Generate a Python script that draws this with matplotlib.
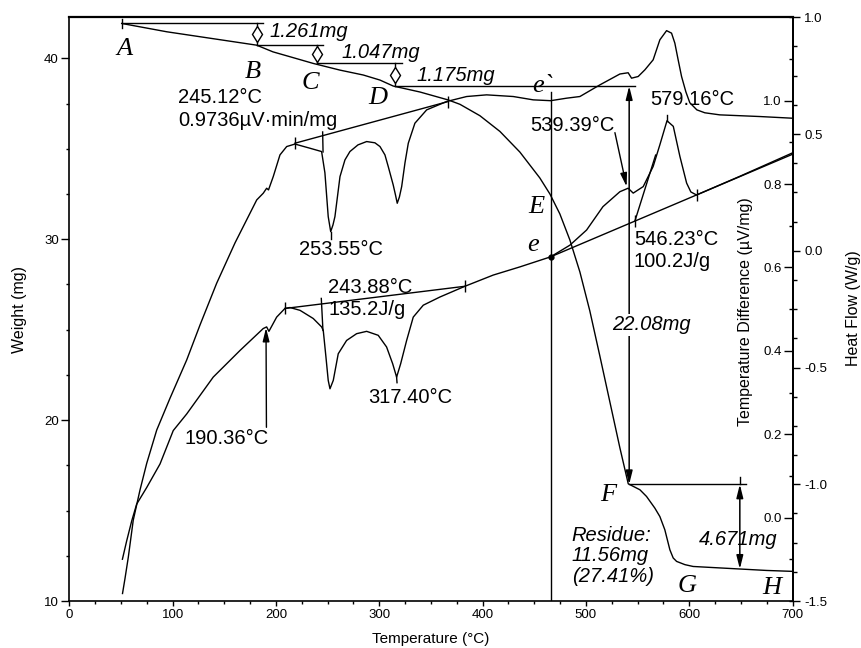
import matplotlib.pyplot as plt
from matplotlib.ticker import MultipleLocator

plt.rcParams['font.family'] = ['Liberation Sans', 'DejaVu Sans']
plt.rcParams['axes.unicode_minus'] = False

# TG curve: temperature (°C) / weight (mg)
tg_temp = [50.7, 94.3, 181.3, 197.1, 213.6, 236.1, 262.0, 284.5, 300.7, 313.5,
           339.4, 366.8, 378.1, 397.4, 416.8, 436.1, 455.4, 465.2, 474.8, 484.5,
           494.2, 503.8, 513.5, 523.2, 532.9, 541.0, 552.3, 558.7, 566.7, 571.6,
           576.4, 581.3, 584.5, 587.8, 595.9, 603.8, 619.9, 649.0, 674.9, 699.6]
tg_weight = [41.93, 41.47, 40.73, 40.36, 40.09, 39.72, 39.35, 39.08, 38.80, 38.47,
             38.14, 37.70, 37.46, 36.83, 35.96, 34.82, 33.39, 32.50, 31.40, 29.96,
             28.19, 26.04, 23.55, 21.01, 18.47, 16.48, 16.15, 15.78, 15.14, 14.67,
             13.94, 12.83, 12.38, 12.19, 12.01, 11.91, 11.86, 11.77, 11.69, 11.64]

# DTA curve: temperature (°C) / temperature difference (µV/mg)
dta_temp = [51.5, 53.9, 57.1, 61.9, 68.4, 74.9, 84.6, 97.4, 113.6, 126.5,
            142.6, 160.4, 181.4, 187.7, 191.0, 192.8, 197.4, 203.9, 210.4, 218.4,
            232.9, 244.2, 247.4, 250.6, 253.0, 255.2, 257.1, 262.0, 266.8, 271.6,
            279.4, 287.8, 295.8, 300.7, 305.5, 308.7, 313.5, 315.7, 317.4, 319.5,
            321.7, 324.9, 328.1, 334.5, 345.9, 365.2, 384.6, 403.9, 429.7, 449.0,
            465.9, 481.3, 494.2, 513.6, 532.9, 540.9, 544.2, 550.6, 557.1, 565.1,
            571.6, 578.1, 582.9, 586.1, 589.3, 592.6, 596.8, 600.6, 607.4, 615.1,
            629.6, 668.4, 699.6]
dta_value = [-0.182, -0.146, -0.095, -0.006, 0.066, 0.130, 0.210, 0.286, 0.378, 0.462,
             0.562, 0.659, 0.762, 0.778, 0.790, 0.786, 0.818, 0.870, 0.890, 0.896,
             0.886, 0.878, 0.827, 0.722, 0.686, 0.702, 0.722, 0.818, 0.858, 0.878,
             0.894, 0.902, 0.899, 0.890, 0.870, 0.842, 0.798, 0.774, 0.754, 0.769,
             0.794, 0.851, 0.898, 0.946, 0.978, 0.998, 1.010, 1.014, 1.010, 1.002,
             1.000, 1.006, 1.010, 1.038, 1.064, 1.067, 1.054, 1.058, 1.074, 1.098,
             1.146, 1.168, 1.162, 1.138, 1.098, 1.058, 1.021, 0.995, 0.978, 0.971,
             0.966, 0.962, 0.958]

# DSC curve: temperature (°C) / heat flow (W/g)
dsc_temp = [51.4, 55.5, 60.4, 65.2, 74.9, 87.8, 100.6, 113.6, 139.3, 165.2,
            187.7, 191.0, 193.2, 200.7, 208.7, 213.6, 223.3, 236.1, 244.2, 245.8,
            248.4, 250.6, 252.3, 255.5, 260.3, 268.4, 278.1, 287.8, 299.0, 307.1,
            313.0, 316.8, 320.7, 326.5, 332.9, 342.6, 358.7, 382.9, 410.3, 436.1,
            465.8, 484.5, 500.7, 516.5, 532.9, 540.9, 545.8, 555.5, 565.1, 571.6,
            578.5, 584.6, 591.0, 597.5, 601.6, 607.1, 649.0, 700.3]
dsc_value = [-1.321, -1.243, -1.157, -1.085, -1.014, -0.913, -0.770, -0.699, -0.541, -0.427,
             -0.333, -0.326, -0.345, -0.284, -0.247, -0.243, -0.255, -0.290, -0.326, -0.341,
             -0.455, -0.555, -0.591, -0.555, -0.441, -0.384, -0.355, -0.345, -0.362, -0.412,
             -0.484, -0.541, -0.484, -0.384, -0.284, -0.233, -0.198, -0.152, -0.104, -0.069,
             -0.026, 0.024, 0.089, 0.189, 0.253, 0.268, 0.247, 0.275, 0.361, 0.454,
             0.557, 0.533, 0.404, 0.290, 0.252, 0.239, 0.319, 0.420]

# TG steps: A, B, C, D, F
step_temp = [50.7, 181.3, 240.0, 315.2, 541.9]
step_weight = [41.97, 40.73, 39.72, 38.47, 16.45]
step_end = [187.7, 245.8, 321.7, 547.4, 655.0]
step_labels = ['1.261mg', '1.047mg', '1.175mg']
step_label_pos = [(194.2, 41.47), (263.6, 40.31), (336.2, 39.08)]

residue_temp = 649.0
residue_weight = 11.77

# value labels: text, temperature, weight, alignment
value_labels = [
    ('245.12°C', 105.5, 37.82, 'left'),
    ('0.9736µV·min/mg', 105.5, 36.55, 'left'),
    ('253.55°C', 262.9, 29.41, 'center'),
    ('243.88°C', 250.6, 27.34, 'left'),
    ('135.2J/g', 250.6, 26.09, 'left'),
    ('317.40°C', 329.7, 21.27, 'center'),
    ('190.36°C', 152.3, 19.01, 'center'),
    ('539.39°C', 487.0, 36.31, 'center'),
    ('579.16°C', 603.1, 37.75, 'center'),
    ('546.23°C', 546.5, 30.00, 'left'),
    ('100.2J/g', 546.5, 28.76, 'left'),
]

# point letters
letters = ['A', 'B', 'C', 'D', 'e`', 'E', 'e', 'F', 'G', 'H']
letter_temp = [53.9, 178.1, 232.9, 299.0, 458.4, 452.3, 449.0, 521.6, 597.5, 679.7]
letter_weight = [40.50, 39.26, 38.62, 37.79, 38.47, 31.80, 29.68, 15.87, 10.81, 10.72]

fig = plt.figure(figsize=(8.62, 6.48), dpi=100)
ax = fig.add_axes([0.0804, 0.0725, 0.8390, 0.9008])
ax_td = ax.twinx()
ax_hf = ax.twinx()

lw = 1.0
k = 'black'

# curves
ax.plot(tg_temp, tg_weight, color=k, lw=lw)
ax_td.plot(dta_temp, dta_value, color=k, lw=lw)
ax_hf.plot(dsc_temp, dsc_value, color=k, lw=lw)

# TG step lines with small double arrows
ax.plot([step_temp[0]] * 2, [42.2, 41.66], color=k, lw=lw)
for i in range(4):
    ax.plot([step_temp[i], step_end[i]], [step_weight[i]] * 2, color=k, lw=lw)
for i in range(3):
    t = step_temp[i + 1]
    w0, w1 = step_weight[i], step_weight[i + 1]
    ax.plot([t, t], [w0, w1], color=k, lw=lw)
    ax.plot(t, (w0 + w1) / 2, marker='d', ms=8, mfc='white', mec=k, mew=1)
    ax.text(step_label_pos[i][0], step_label_pos[i][1], step_labels[i],
            fontsize=14.5, style='italic', ha='left', va='center')

# 22.08 mg arrow
arrow_kw = dict(arrowstyle='<|-|>,head_length=0.8,head_width=0.2', color=k, lw=1.1,
                shrinkA=0, shrinkB=0)
ax.annotate('', xy=(step_temp[4], step_weight[3]), xytext=(step_temp[4], step_weight[4]),
            arrowprops=arrow_kw)
ax.text(563.9, 25.27, '22.08mg', fontsize=14.5, style='italic', ha='center', va='center',
        bbox=dict(fc='white', ec='none', pad=1), zorder=5)

# F line and 4.671 mg arrow
ax.plot([step_temp[4], step_end[4]], [step_weight[4]] * 2, color=k, lw=lw)
ax.plot([residue_temp] * 2, [16.85, step_weight[4]], color=k, lw=lw)
ax.annotate('', xy=(residue_temp, step_weight[4]), xytext=(residue_temp, residue_weight),
            arrowprops=arrow_kw)
ax.text(647.1, 13.39, '4.671mg', fontsize=14.5, style='italic', ha='center', va='center')
ax.plot([700, 700], [11.91, 11.45], color=k, lw=lw)
ax.text(486.2, 12.5, 'Residue:\n11.56mg\n(27.41%)', fontsize=14.5, style='italic',
        ha='left', va='center', linespacing=1.1)

# vertical line at e / E
ax_td.plot([465.8, 465.8], [-0.2, 1.02], color=k, lw=lw)

# DTA baseline 245.12
ax_td.plot([218.4, 366.7], [0.898, 0.998], color=k, lw=lw)
ax_td.plot([218.4, 366.7], [0.898, 0.998], ls='none', marker='|', ms=8, color=k, mew=1)
ax_td.plot([245.2, 245.6], [0.925, 0.877], color=k, lw=lw)
ax_td.plot([253.0, 253.0], [0.686, 0.668], color=k, lw=lw)

# DSC baseline 243.88
ax_hf.plot([208.7, 382.9], [-0.247, -0.152], color=k, lw=lw)
ax_hf.plot([208.7, 382.9], [-0.247, -0.152], ls='none', marker='|', ms=8, color=k, mew=1)
ax_hf.plot([243.9, 245.5], [-0.204, -0.341], color=k, lw=lw)
ax_hf.plot([316.8, 317.2], [-0.541, -0.565], color=k, lw=lw)

# DSC baseline 546.23
ax_hf.plot([465.8, 700.3], [-0.026, 0.414], color=k, lw=lw)
ax_hf.plot([547.4, 607.1], [0.127, 0.239], ls='none', marker='|', ms=8, color=k, mew=1)
ax_hf.plot([547.4, 567.5], [0.127, 0.41], color=k, lw=lw)
ax_hf.plot(465.8, -0.026, marker='o', ms=3.5, color=k)
ax_hf.plot([578.5, 578.5], [0.557, 0.582], color=k, lw=lw)

# arrows to peaks
head_kw = dict(arrowstyle='-|>,head_length=0.8,head_width=0.2', color=k, lw=1.0,
               shrinkA=0, shrinkB=0)
ax_hf.annotate('', xy=(190.4, -0.33), xytext=(190.8, -0.756), arrowprops=head_kw)
ax_hf.annotate('', xy=(539.4, 0.275), xytext=(528.1, 0.506), arrowprops=head_kw)

for s, t, w, ha in value_labels:
    ax.text(t, w, s, fontsize=14.5, ha=ha, va='center')

for s, t, w in zip(letters, letter_temp, letter_weight):
    ax.text(t, w, s, fontsize=19, family='Liberation Serif', style='italic',
            ha='center', va='center')

# axes
ax.set_xlim(0, 700)
ax.set_ylim(10, 42.27)
ax.set_xticks(range(0, 701, 100))
ax.xaxis.set_minor_locator(MultipleLocator(25))
ax.set_yticks([10, 20, 30, 40])
ax.yaxis.set_minor_locator(MultipleLocator(2.5))
ax.tick_params(axis='x', which='major', direction='out', length=3.5, width=1,
               labelsize=9.5, pad=2.5)
ax.tick_params(axis='x', which='minor', direction='out', length=2, width=1)
ax.tick_params(axis='y', which='major', direction='out', length=5.5, width=1,
               labelsize=9.5, pad=2)
ax.tick_params(axis='y', which='minor', direction='out', length=2.5, width=1)
for s in ax.spines.values():
    s.set_linewidth(1.2)
ax.spines['top'].set_linewidth(1.6)
ax.set_xlabel('Temperature (°C)', fontsize=11)
ax.xaxis.set_label_coords(0.5, -0.053)
ax.set_ylabel('Weight (mg)', fontsize=11.5)
ax.yaxis.set_label_coords(-0.058, 0.5)

ax_td.set_ylim(-0.2, 1.2)
ax_td.spines['left'].set_position(('axes', 1.0))
ax_td.yaxis.set_ticks_position('left')
ax_td.yaxis.set_label_position('left')
for s in ['top', 'bottom', 'right']:
    ax_td.spines[s].set_visible(False)
ax_td.spines['left'].set_linewidth(1.2)
ax_td.set_yticks([0, 0.2, 0.4, 0.6, 0.8, 1.0])
ax_td.yaxis.set_minor_locator(MultipleLocator(0.1))
ax_td.tick_params(axis='y', which='major', direction='out', length=6.5, width=1,
                  labelsize=9.5, pad=1.5)
ax_td.tick_params(axis='y', which='minor', direction='out', length=3, width=1)
ax_td.set_ylabel('Temperature Difference (µV/mg)', fontsize=11.5)
ax_td.yaxis.set_label_coords(0.9447, 0.496)

ax_hf.set_ylim(-1.5, 1.0)
for s in ['top', 'bottom', 'left']:
    ax_hf.spines[s].set_visible(False)
ax_hf.spines['right'].set_linewidth(1.2)
ax_hf.set_yticks([-1.5, -1.0, -0.5, 0.0, 0.5, 1.0])
ax_hf.yaxis.set_minor_locator(MultipleLocator(0.125))
ax_hf.tick_params(axis='y', which='major', direction='out', length=5, width=1,
                  labelsize=9.5, pad=3.5)
ax_hf.tick_params(axis='y', which='minor', direction='out', length=3, width=1)
ax_hf.set_ylabel('Heat Flow (W/g)', fontsize=11.5)
ax_hf.yaxis.set_label_coords(1.0733, 0.501)

fig.savefig('out.png', dpi=100)
